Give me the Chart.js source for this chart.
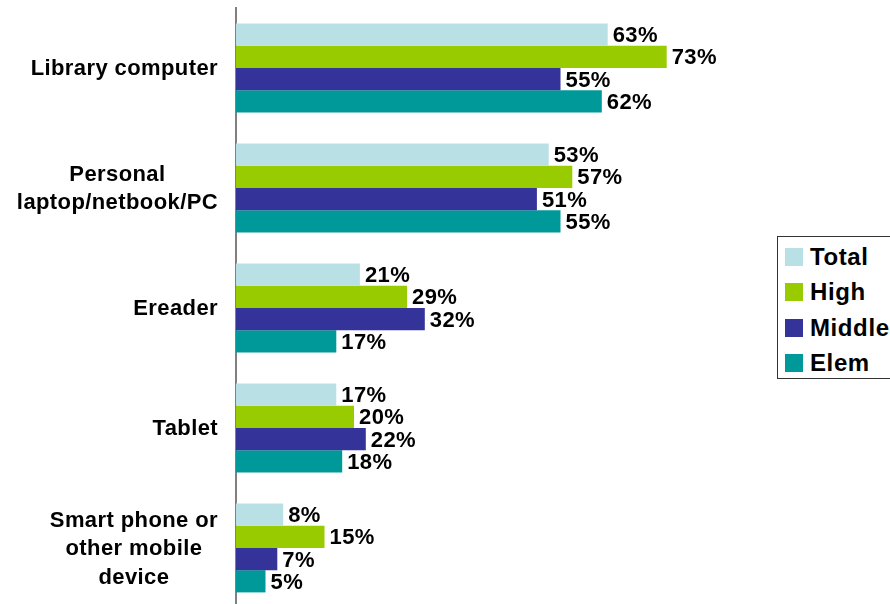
<!DOCTYPE html>
<html>
<head>
<meta charset="utf-8">
<script src="https://cdn.jsdelivr.net/npm/chart.js@4/dist/chart.umd.min.js"></script>
<style>
  html, body { margin: 0; padding: 0; background: #fff; overflow: hidden; width: 890px; height: 604px; }
  #wrap { position: relative; width: 890px; height: 612px; }
  #legend {
    position: absolute; left: 777px; top: 236px; width: 130px; height: 143px;
    border: 1px solid #333; box-sizing: border-box; background: #fff;
    font-family: 'Liberation Sans', Arial, sans-serif; font-weight: bold; font-size: 24px;
    letter-spacing: 0.6px; padding-top: 2px;
  }
  #legend .row { display: flex; align-items: center; height: 35.5px; }
  #legend .sw { width: 18px; height: 18px; margin-left: 7px; margin-right: 7px; flex: none; }
</style>
</head>
<body>
<div id="wrap">
  <canvas id="chart" width="890" height="612"></canvas>
  <div id="legend"></div>
</div>
<script>
// --- data ---
const categories = [
    ['Library computer'],
    ['Personal', 'laptop/netbook/PC'],
    ['Ereader'],
    ['Tablet'],
    ['Smart phone or', 'other mobile', 'device']
];
const seriesNames = ['Total', 'High', 'Middle', 'Elem'];
const totalValues = [63, 53, 21, 17, 8];
const highValues = [73, 57, 29, 20, 15];
const middleValues = [55, 51, 32, 22, 7];
const elemValues = [62, 55, 17, 18, 5];
const seriesColors = ['#B9E0E4', '#99CC00', '#333399', '#009999'];

const allValues = [totalValues, highValues, middleValues, elemValues];
const FONT = "'Liberation Sans', Arial, sans-serif";

// category labels, right-aligned block with centered lines
const categoryLabels = {
    id: 'categoryLabels',
    afterDraw(chart) {
        const ctx = chart.ctx;
        const yScale = chart.scales.y;
        ctx.save();
        ctx.font = 'bold 22px ' + FONT;
        ctx.letterSpacing = '0.4px';
        ctx.fillStyle = '#000';
        ctx.textBaseline = 'middle';
        ctx.textAlign = 'center';
        const rightEdge = 218;
        const lh = 28.5;
        categories.forEach((lines, i) => {
            const y = yScale.getPixelForValue(i) + 1;
            const maxW = Math.max(...lines.map(l => ctx.measureText(l).width));
            const cx = rightEdge - maxW / 2;
            lines.forEach((line, j) => {
                ctx.fillText(line, cx, y + (j - (lines.length - 1) / 2) * lh);
            });
        });
        ctx.restore();
    }
};

// value labels at bar ends
const valueLabels = {
    id: 'valueLabels',
    afterDatasetsDraw(chart) {
        const ctx = chart.ctx;
        ctx.save();
        ctx.font = 'bold 22px ' + FONT;
        ctx.letterSpacing = '0.4px';
        ctx.fillStyle = '#000';
        ctx.textBaseline = 'middle';
        ctx.textAlign = 'left';
        chart.data.datasets.forEach((ds, di) => {
            chart.getDatasetMeta(di).data.forEach((bar, i) => {
                ctx.fillText(ds.data[i] + '%', bar.x + 5, bar.y + 1.5);
            });
        });
        ctx.restore();
    }
};

const chart = new Chart(document.getElementById('chart'), {
    type: 'bar',
    data: {
        labels: categories,
        datasets: seriesNames.map((name, k) => ({
            label: name,
            data: allValues[k],
            backgroundColor: seriesColors[k],
            borderWidth: 0,
            categoryPercentage: 0.74,
            barPercentage: 1.0
        }))
    },
    options: {
        indexAxis: 'y',
        responsive: false,
        animation: false,
        layout: { padding: { left: 0, top: 8, right: 64, bottom: 4 } },
        scales: {
            x: {
                display: false,
                min: 0,
                max: 100
            },
            y: {
                grid: { display: false, drawTicks: false },
                border: { display: true, color: '#808080', width: 2 },
                ticks: { display: false },
                afterFit(scale) { scale.width = 236; }
            }
        },
        plugins: {
            legend: { display: false },
            tooltip: { enabled: false }
        }
    },
    plugins: [categoryLabels, valueLabels]
});

// --- legend ---
const legend = document.getElementById('legend');
seriesNames.forEach((name, k) => {
    const row = document.createElement('div');
    row.className = 'row';
    const sw = document.createElement('span');
    sw.className = 'sw';
    sw.style.background = seriesColors[k];
    const txt = document.createElement('span');
    txt.textContent = name;
    row.appendChild(sw);
    row.appendChild(txt);
    legend.appendChild(row);
});
</script>
</body>
</html>
